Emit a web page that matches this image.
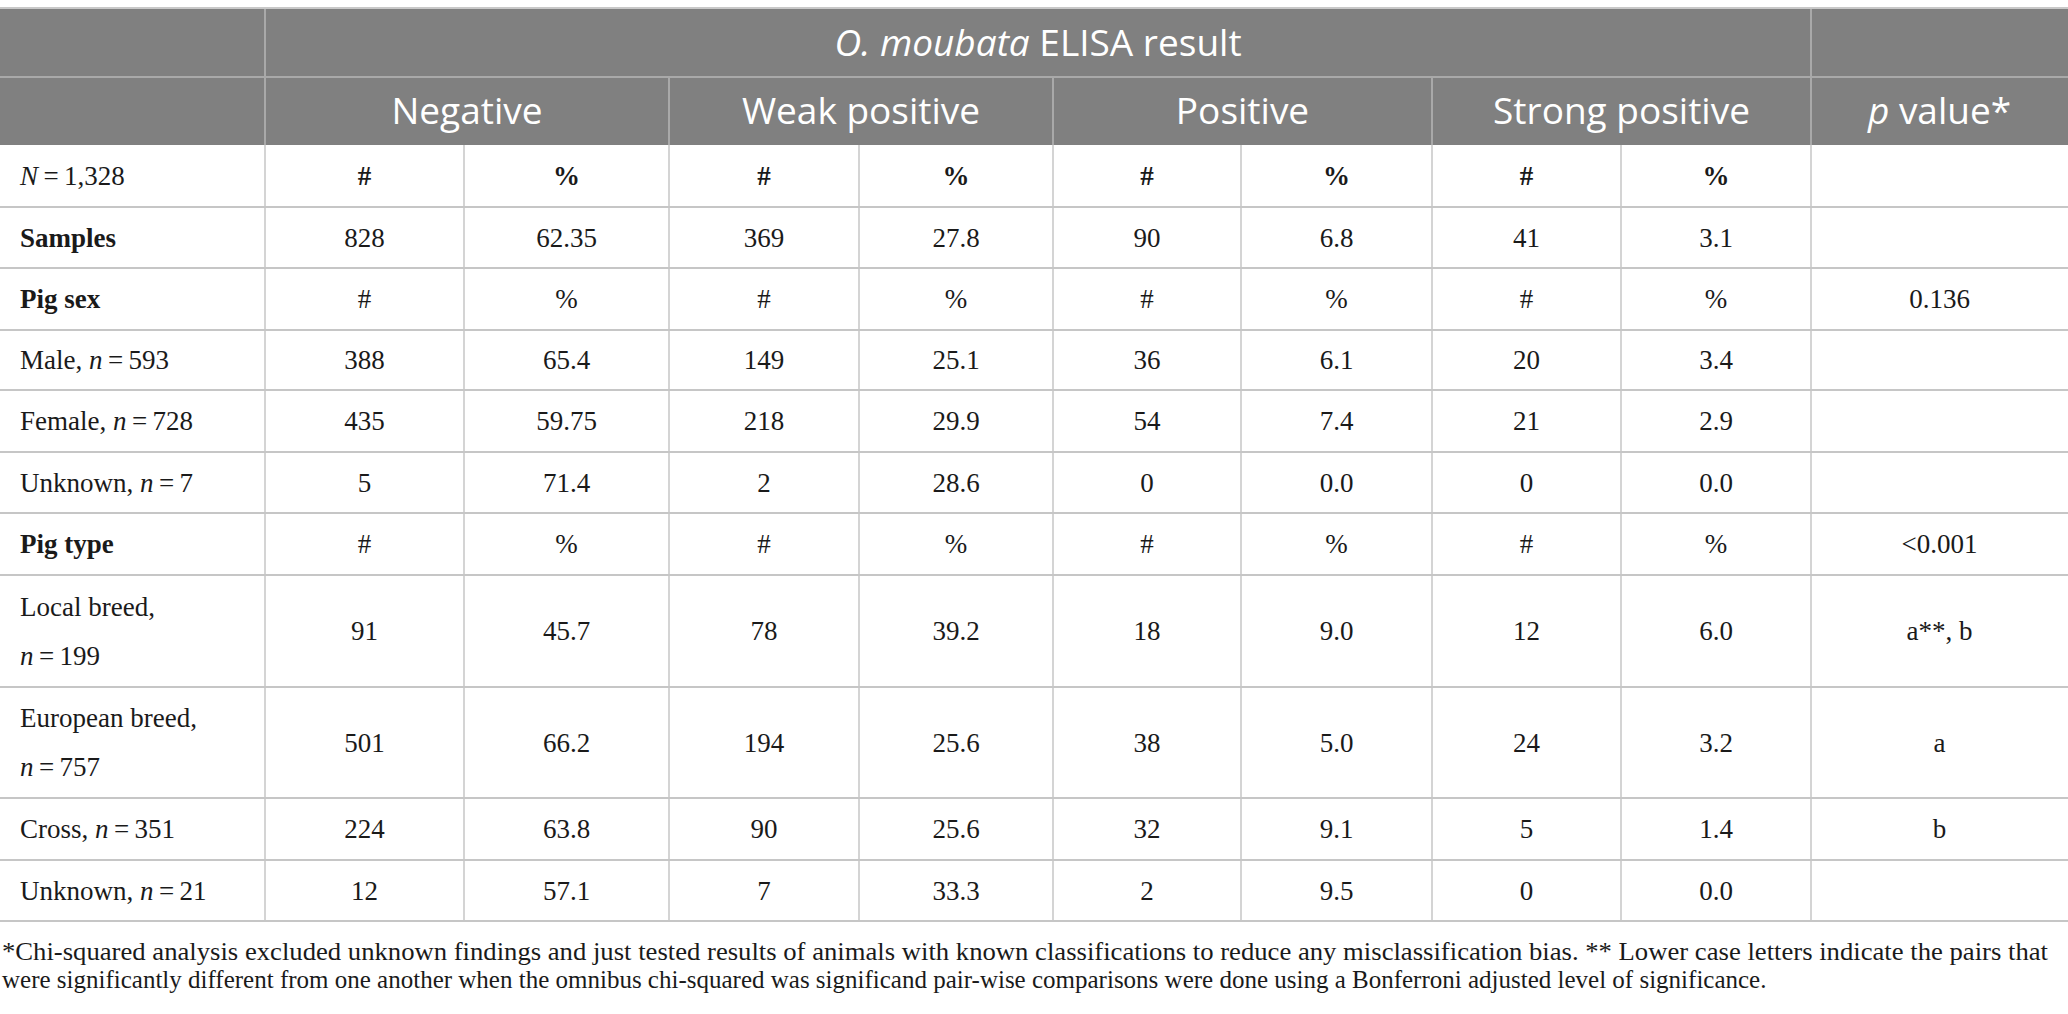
<!DOCTYPE html>
<html>
<head>
<meta charset="utf-8">
<script src="https://cdn.jsdelivr.net/npm/d3@7"></script>
<style>
  body { margin: 0; background: #fff; }
</style>
</head>
<body>
<div class="canvas"></div>
<script>
const dims = { width: 2068, height: 1014 };

// table content
const groups = ["Negative", "Weak positive", "Positive", "Strong positive"];
const rowLabels = [
  "_N_\u2009=\u20091,328", "Samples", "Pig sex", "Male, _n_\u2009=\u2009593",
  "Female, _n_\u2009=\u2009728", "Unknown, _n_\u2009=\u20097", "Pig type",
  "Local breed,|_n_\u2009=\u2009199", "European breed,|_n_\u2009=\u2009757",
  "Cross, _n_\u2009=\u2009351", "Unknown, _n_\u2009=\u200921"
];
const boldRows = ["Samples", "Pig sex", "Pig type"];
const negCount = ["#", "828", "#", "388", "435", "5", "#", "91", "501", "224", "12"];
const negPct = ["%", "62.35", "%", "65.4", "59.75", "71.4", "%", "45.7", "66.2", "63.8", "57.1"];
const weakCount = ["#", "369", "#", "149", "218", "2", "#", "78", "194", "90", "7"];
const weakPct = ["%", "27.8", "%", "25.1", "29.9", "28.6", "%", "39.2", "25.6", "25.6", "33.3"];
const posCount = ["#", "90", "#", "36", "54", "0", "#", "18", "38", "32", "2"];
const posPct = ["%", "6.8", "%", "6.1", "7.4", "0.0", "%", "9.0", "5.0", "9.1", "9.5"];
const strongCount = ["#", "41", "#", "20", "21", "0", "#", "12", "24", "5", "0"];
const strongPct = ["%", "3.1", "%", "3.4", "2.9", "0.0", "%", "6.0", "3.2", "1.4", "0.0"];
const pValues = ["", "", "0.136", "", "", "", "<0.001", "a**, b", "a", "b", ""];
const footnote = [
  "*Chi-squared analysis excluded unknown findings and just tested results of animals with known classifications to reduce any misclassification bias. ** Lower case letters indicate the pairs that",
  "were significantly different from one another when the omnibus chi-squared was significand pair-wise comparisons were done using a Bonferroni adjusted level of significance."
];

// layout
const colWidths = [265, 199, 205, 190, 194, 188, 191, 189, 190, 257];
const rowHeights = [62, 61, 62, 60, 62, 61, 62, 112, 111, 62, 61];
const tableTop = 9, headH = 68;

const colX = [0, ...d3.cumsum(colWidths)];
const bodyTop = tableTop + headH * 2;
const rowY = [bodyTop, ...d3.cumsum(rowHeights).map((d) => d + bodyTop)];
const tableBottom = rowY[rowY.length - 1];

const svg = d3
  .select(".canvas")
  .append("svg")
  .attr("width", dims.width)
  .attr("height", dims.height);

// write "_x_" parts in italics
function richText(sel, str) {
  str.split(/(_[^_]+_)/).filter((s) => s.length).forEach((s) => {
    const t = sel.append("tspan");
    if (s.startsWith("_")) t.style("font-style", "italic").text(s.slice(1, -1));
    else t.text(s);
  });
}

// header
svg.append("rect")
  .attr("x", 0).attr("y", tableTop)
  .attr("width", dims.width).attr("height", headH * 2)
  .attr("fill", "#808080");

const headLines = svg.append("g").attr("stroke", "#a9a9a9").attr("stroke-width", 2);
headLines.append("line").attr("x1", 0).attr("x2", dims.width).attr("y1", tableTop - 1).attr("y2", tableTop - 1).attr("stroke", "#c8c8c8");
headLines.append("line").attr("x1", 0).attr("x2", dims.width).attr("y1", tableTop + headH).attr("y2", tableTop + headH);
[colX[1], colX[9]].forEach((x) => {
  headLines.append("line").attr("x1", x).attr("x2", x).attr("y1", tableTop).attr("y2", tableTop + headH * 2);
});
[colX[3], colX[5], colX[7]].forEach((x) => {
  headLines.append("line").attr("x1", x).attr("x2", x).attr("y1", tableTop + headH).attr("y2", tableTop + headH * 2);
});

const headText = svg.append("g")
  .attr("fill", "#fff")
  .attr("font-family", "'Open Sans', sans-serif")
  .attr("font-size", 37)
  .attr("text-anchor", "middle");

richText(
  headText.append("text")
    .attr("x", (colX[1] + colX[9]) / 2)
    .attr("y", tableTop + headH / 2)
    .attr("dy", "0.35em"),
  "_O. moubata_ ELISA result"
);

headText.selectAll("text.grp")
  .data(groups)
  .join("text")
  .attr("class", "grp")
  .attr("x", (d, i) => (colX[1 + i * 2] + colX[3 + i * 2]) / 2)
  .attr("y", tableTop + headH * 1.5)
  .attr("dy", "0.35em")
  .text((d) => d);

richText(
  headText.append("text")
    .attr("x", (colX[9] + colX[10]) / 2)
    .attr("y", tableTop + headH * 1.5)
    .attr("dy", "0.35em"),
  "_p_ value*"
);

// body grid
const grid = svg.append("g").attr("stroke", "#c6c6c6");
grid.selectAll("line.h")
  .data(rowY.slice(1))
  .join("line")
  .attr("class", "h")
  .attr("x1", 0).attr("x2", dims.width)
  .attr("y1", (d) => d).attr("y2", (d) => d)
  .attr("stroke-width", 2);
grid.selectAll("line.v")
  .data(colX.slice(1, -1))
  .join("line")
  .attr("class", "v")
  .attr("x1", (d) => d).attr("x2", (d) => d)
  .attr("y1", bodyTop).attr("y2", tableBottom)
  .attr("stroke-width", 1.5);

// body text
const columns = [negCount, negPct, weakCount, weakPct, posCount, posPct, strongCount, strongPct, pValues];
const body = svg.append("g")
  .attr("fill", "#1a1a1a")
  .attr("font-family", "'Liberation Serif', serif")
  .attr("font-size", 27);

rowLabels.forEach((label, r) => {
  const cy = (rowY[r] + rowY[r + 1]) / 2;
  const lines = label.split("|");
  lines.forEach((ln, k) => {
    const t = body.append("text")
      .attr("x", 20)
      .attr("y", cy + (k - (lines.length - 1) / 2) * 49)
      .attr("dy", "0.35em")
      .attr("font-weight", boldRows.includes(ln) ? "bold" : null);
    richText(t, ln);
  });
  columns.forEach((col, c) => {
    if (!col[r]) return;
    body.append("text")
      .attr("x", (colX[c + 1] + colX[c + 2]) / 2)
      .attr("y", cy)
      .attr("dy", "0.35em")
      .attr("text-anchor", "middle")
      .attr("font-weight", r === 0 ? "bold" : null)
      .text(col[r]);
  });
});

// footnote
svg.append("g")
  .attr("fill", "#1a1a1a")
  .attr("font-family", "'Liberation Serif', serif")
  .attr("font-size", 25)
  .selectAll("text")
  .data(footnote)
  .join("text")
  .attr("x", 2)
  .attr("y", (d, i) => 960 + i * 28)
  .attr("textLength", (d, i) => (i === 0 ? 2046 : null))
  .attr("lengthAdjust", "spacingAndGlyphs")
  .text((d) => d);
</script>
</body>
</html>
